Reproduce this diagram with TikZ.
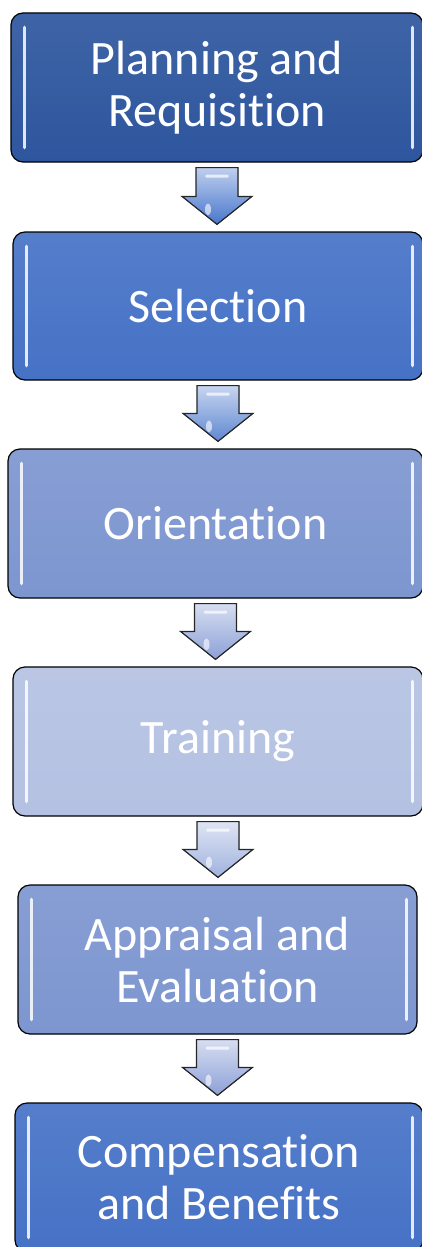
\documentclass[tikz,border=0pt]{standalone}
\usepackage{fontspec}
\setmainfont{Carlito}[RawFeature={-liga;-clig;-dlig;-calt}]
\usetikzlibrary{calc}

% fill colours of the six stages
\definecolor{stageA}{RGB}{46,86,158}
\definecolor{stageB}{RGB}{70,114,198}
\definecolor{stageC}{RGB}{125,150,208}
\definecolor{stageD}{RGB}{180,193,226}
\definecolor{arrowA}{RGB}{72,118,205}
\definecolor{arrowB}{RGB}{95,135,210}
\definecolor{arrowC}{RGB}{140,160,215}
\definecolor{arrowD}{RGB}{160,178,222}

\tikzset{
  stage/.style={draw=black, line width=1.2pt, rounded corners=12pt, text=white,
    align=center, inner sep=0pt, font=\fontsize{48}{52}\selectfont},
  gloss/.style={white, line width=3.5pt, line cap=round, opacity=.85},
  downarrow/.style={draw=black!85, line width=1.2pt, line join=miter},
}

% block arrow from the bottom of #1 to the top of #2, shaded with #3
\newcommand{\stepdown}[3]{%
  \filldraw[downarrow, top color=#3!35!white, bottom color=#3]
    ($(#1.south)+(-21,-5)$) -- ($(#1.south)+(21,-5)$)
    -- ($(#2.north -| #1.south)+(21,35)$) -- ($(#2.north -| #1.south)+(35,35)$)
    -- ($(#2.north -| #1.south)+(0,7)$)
    -- ($(#2.north -| #1.south)+(-35,35)$) -- ($(#2.north -| #1.south)+(-21,35)$) -- cycle;
  \fill[white, opacity=.7, rounded corners=1.5pt]
    ($(#1.south)+(-12,-12)$) rectangle ($(#1.south)+(12,-15)$);
  \fill[white, opacity=.6] ($(#2.north -| #1.south)+(-9,22)$) ellipse (3 and 6);
}

\begin{document}
\begin{tikzpicture}[x=1pt, y=1pt]
\useasboundingbox (0,0) rectangle (421,-1247);

%% Stages
  \node[stage, minimum width=412, minimum height=149, top color=stageA!92!white, bottom color=stageA] (plan) at (217,-87.5) {Planning and\\Requisition};
  \node[stage, minimum width=410, minimum height=148, top color=stageB!92!white, bottom color=stageB] (sel) at (218,-306) {Selection};
  \node[stage, minimum width=415, minimum height=149, top color=stageC!92!white, bottom color=stageC] (orient) at (215.5,-523.5) {Orientation};
  \node[stage, minimum width=410, minimum height=149, top color=stageD!92!white, bottom color=stageD] (train) at (218,-741.5) {Training};
  \node[stage, minimum width=399, minimum height=149, top color=stageC!92!white, bottom color=stageC] (appr) at (217.5,-959.5) {Appraisal and\\Evaluation};
  \node[stage, minimum width=408, minimum height=149, top color=stageB!92!white, bottom color=stageB] (comp) at (219,-1177.5) {Compensation\\and Benefits};

% side highlights
  \foreach \n in {plan,sel,orient,train,appr,comp} {
    \draw[gloss] ($(\n.north west)+(14,-15)$) -- ($(\n.south west)+(14,15)$);
    \draw[gloss] ($(\n.north east)+(-11,-15)$) -- ($(\n.south east)+(-11,15)$);
  }

%% Arrows
  \stepdown{plan}{sel}{arrowA}
  \stepdown{sel}{orient}{arrowB}
  \stepdown{orient}{train}{arrowC}
  \stepdown{train}{appr}{arrowD}
  \stepdown{appr}{comp}{arrowC}

\end{tikzpicture}
\end{document}
